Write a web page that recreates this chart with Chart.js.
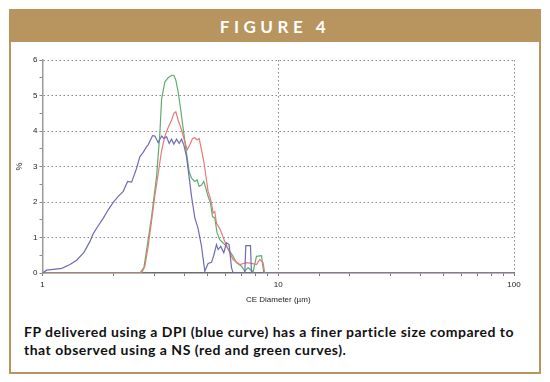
<!DOCTYPE html>
<html>
<head>
<meta charset="utf-8">
<script src="https://cdn.jsdelivr.net/npm/chart.js@4.4.1/dist/chart.umd.min.js"></script>
<style>
  html, body { margin: 0; padding: 0; background: #fff; width: 550px; height: 382px; overflow: hidden; }
  #frame { position: absolute; left: 9px; top: 9px; width: 528px; height: 361px; border: 2px solid #b8945f; background: #fff; }
  #header { position: absolute; left: 9px; top: 9px; width: 532px; height: 33px; background: #b8945f;
            color: #fff; font-family: Lato, "Open Sans", sans-serif; font-weight: bold; font-size: 17px;
            letter-spacing: 4.5px; text-align: center; line-height: 35px; }
  #caption { position: absolute; left: 24px; top: 323px; width: 520px; font-family: Lato, "Open Sans", sans-serif;
             font-weight: bold; font-size: 14px; letter-spacing: 0.5px; line-height: 18px; color: #111; }
  #wrap { position: absolute; left: 0; top: 0; width: 550px; height: 382px; }
</style>
</head>
<body>
<div id="frame"></div>
<div id="header">FIGURE 4</div>
<div id="caption">FP delivered using a DPI (blue curve) has a finer particle size compared to<br>that observed using a NS (red and green curves).</div>
<div id="wrap"><canvas id="c" width="550" height="382"></canvas></div>
<script>
// CE diameter (µm) and volume % for each curve
const dpiSize = [1.00, 1.042, 1.206, 1.308, 1.396, 1.499, 1.590, 1.642, 1.723, 1.809, 1.900, 1.995, 2.095, 2.200, 2.296, 2.388, 2.507, 2.589, 2.674, 2.764, 2.807, 2.930, 2.997, 3.095, 3.200, 3.272, 3.360, 3.446, 3.527, 3.607, 3.703, 3.798, 3.888, 3.976, 4.083, 4.188, 4.287, 4.428, 4.572, 4.726, 4.880, 5.04, 5.21, 5.33, 5.47, 5.56, 5.70, 5.875, 6.031, 6.187, 6.334, 6.434, 7.213, 7.284, 7.624, 7.699, 100];
const dpiPct  = [0.00, 0.08, 0.13, 0.24, 0.36, 0.58, 0.89, 1.11, 1.33, 1.54, 1.78, 1.99, 2.16, 2.30, 2.58, 2.56, 2.95, 3.28, 3.40, 3.56, 3.61, 3.87, 3.86, 3.67, 3.86, 3.79, 3.84, 3.65, 3.77, 3.63, 3.77, 3.65, 3.77, 3.61, 3.28, 2.70, 2.16, 1.55, 1.25, 0.75, 0.05, 0.27, 0.30, 0.50, 0.80, 0.66, 0.75, 0.57, 0.85, 0.80, 0.15, 0.00, 0.00, 0.77, 0.77, 0.00, 0.00];

const ns1Size = [1.00, 2.633, 2.718, 2.807, 2.90, 3.00, 3.095, 3.20, 3.304, 3.413, 3.527, 3.607, 3.678, 3.761, 3.850, 3.926, 4.015, 4.107, 4.217, 4.329, 4.428, 4.528, 4.617, 4.726, 4.833, 4.928, 5.039, 5.124, 5.210, 5.292, 5.380, 5.470, 5.649, 5.932, 6.230, 6.434, 6.869, 7.334, 7.699, 8.084, 8.349, 8.623, 8.767, 100];
const ns1Pct  = [0.00, 0.00, 0.19, 0.75, 1.45, 2.20, 2.80, 3.45, 3.85, 4.10, 4.30, 4.50, 4.54, 4.31, 4.12, 3.93, 3.70, 3.47, 3.61, 3.79, 3.81, 3.75, 3.79, 3.47, 3.14, 2.76, 2.30, 2.16, 1.97, 1.69, 1.73, 1.40, 1.25, 0.89, 0.57, 0.38, 0.24, 0.29, 0.27, 0.24, 0.38, 0.29, 0.00, 0.00];

const ns2Size = [1.00, 2.589, 2.692, 2.780, 2.902, 3.047, 3.147, 3.200, 3.304, 3.413, 3.527, 3.607, 3.678, 3.761, 3.850, 3.949, 4.055, 4.188, 4.287, 4.428, 4.528, 4.617, 4.726, 4.833, 4.928, 5.039, 5.159, 5.261, 5.380, 5.502, 5.649, 6.031, 6.434, 6.651, 6.984, 7.213, 7.447, 7.821, 8.084, 8.489, 8.682, 100];
const ns2Pct  = [0.00, 0.00, 0.15, 0.75, 1.59, 2.72, 3.94, 4.90, 5.38, 5.50, 5.57, 5.57, 5.43, 5.10, 4.64, 4.08, 3.51, 2.86, 2.67, 2.58, 2.62, 2.44, 2.48, 2.58, 2.39, 2.16, 1.97, 1.59, 1.55, 1.13, 0.94, 0.75, 0.47, 0.29, 0.19, 0.05, 0.15, 0.03, 0.47, 0.49, 0.00, 0.00];

const xLabels = [1, 10, 100];
const yLabels = [0, 1, 2, 3, 4, 5, 6];

function pts(xs, ys) { return xs.map((x, i) => ({ x: x, y: ys[i] })); }

const tickFont = { family: "Liberation Sans, Arial, sans-serif", size: 8 };
const gridDash = c => (c && c.type === 'tick') ? [1.5, 2.5] : [];

new Chart(document.getElementById('c'), {
  type: 'scatter',
  data: {
    datasets: [
      { label: 'DPI', data: pts(dpiSize, dpiPct), borderColor: '#6e6cb4', borderWidth: 1.2 },
      { label: 'NS 1', data: pts(ns1Size, ns1Pct), borderColor: '#e77a78', borderWidth: 1.2 },
      { label: 'NS 2', data: pts(ns2Size, ns2Pct), borderColor: '#5cae6c', borderWidth: 1.2 }
    ]
  },
  options: {
    responsive: false,
    animation: false,
    showLine: true,
    elements: { point: { radius: 0 }, line: { tension: 0, fill: false } },
    layout: { padding: { left: 12, right: 36, top: 60, bottom: 75 } },
    plugins: { legend: { display: false }, tooltip: { enabled: false } },
    scales: {
      x: {
        type: 'logarithmic', min: 1, max: 100,
        afterFit: s => { s.height = 34; },
        border: { display: true, color: '#6d6d6d', width: 1.5, dash: gridDash },
        grid: {
          color: c => (c.tick && (c.tick.value === 10 || c.tick.value === 100)) ? '#8a8a8a' : 'rgba(0,0,0,0)',
          lineWidth: 1, drawTicks: true, tickLength: 3, tickColor: '#777', tickWidth: 1
        },
        ticks: {
          autoSkip: false, maxRotation: 0, padding: 4, color: '#222', font: tickFont,
          callback: v => xLabels.includes(v) ? String(v) : ''
        },
        title: { display: true, text: 'CE Diameter (µm)', color: '#222', font: tickFont, padding: { top: 6, bottom: 2 } }
      },
      y: {
        type: 'linear', min: 0, max: 6,
        afterFit: s => { s.width = 30.5; },
        border: { display: true, color: '#9a9a9a', width: 1.5, dash: gridDash },
        grid: {
          color: c => (c.tick && c.tick.value > 0 && Number.isInteger(c.tick.value)) ? '#8a8a8a' : 'rgba(0,0,0,0)',
          lineWidth: 1, drawTicks: true, tickLength: 3, tickColor: '#888', tickWidth: 1
        },
        ticks: {
          stepSize: 0.5, autoSkip: false, padding: 2, color: '#222', font: tickFont,
          callback: v => yLabels.includes(v) ? String(v) : ''
        },
        title: { display: true, text: '%', color: '#222', font: { family: tickFont.family, size: 9 }, padding: 2 }
      }
    }
  }
});
</script>
</body>
</html>
